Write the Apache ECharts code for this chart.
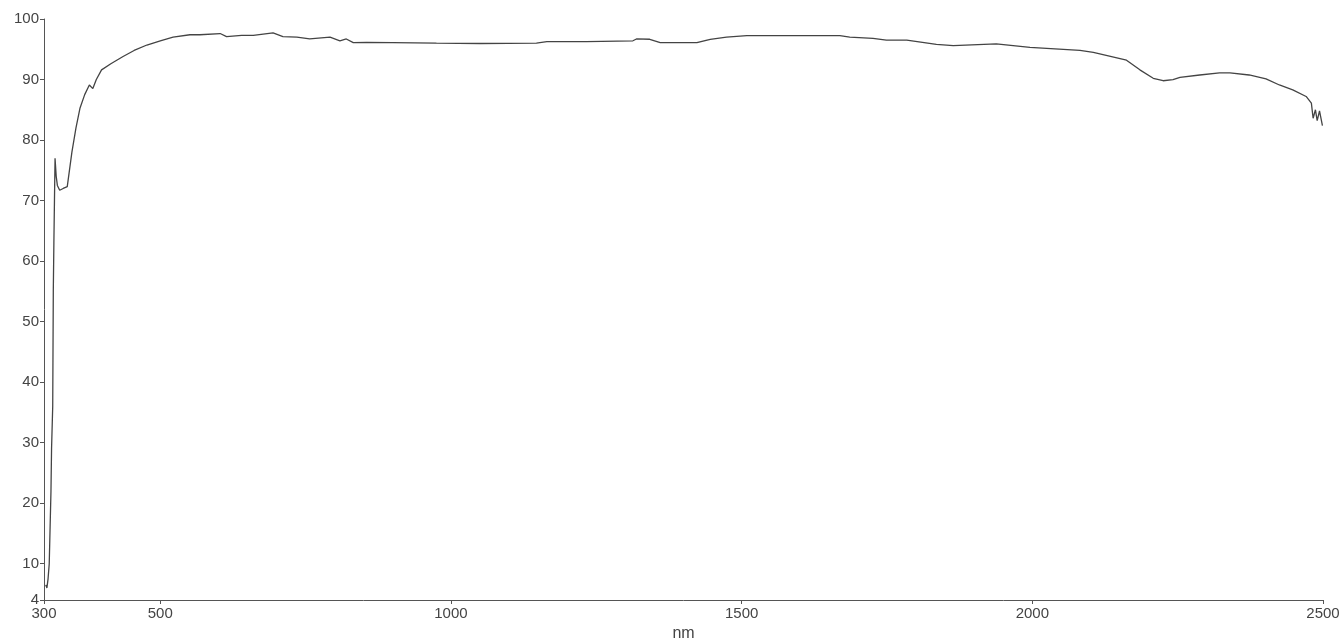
<!DOCTYPE html>
<html>
<head>
<meta charset="utf-8">
<script src="https://cdn.jsdelivr.net/npm/echarts@6/dist/echarts.min.js"></script>
<style>
  html, body { margin: 0; padding: 0; background: #fff; }
  #chart { width: 1342px; height: 641px; }
</style>
</head>
<body>
<div id="chart"></div>
<script>
// wavelength (nm) and reflectance
const wavelength = [
  303, 305, 307, 309, 310, 312, 313, 315, 316, 317, 318, 319, 321, 323, 327, 333, 340, 343,
  348, 355, 362, 370, 378, 384, 390, 399, 415, 436, 455, 477, 500, 522, 551, 568, 603, 614,
  640, 660, 694, 711, 735, 757, 792, 809, 820, 832, 855, 900, 975, 1050, 1147, 1165, 1233,
  1313, 1319, 1342, 1360, 1423, 1446, 1474, 1509, 1669, 1686, 1726, 1749, 1784, 1835, 1864,
  1938, 1996, 2082, 2105, 2162, 2185, 2208, 2225, 2242, 2254, 2288, 2322, 2340, 2373, 2402,
  2425, 2448, 2471, 2480, 2483, 2487, 2490, 2494, 2499
]
const reflectance = [
  6.5, 6.0, 7.5, 10, 14, 22, 29, 36, 55, 63, 70, 77, 74, 72.5, 71.7, 72, 72.3, 72.5,
  78, 82, 85.3, 87.5, 89.1, 88.5, 90, 91.6, 92.6, 93.8, 94.8, 95.7, 96.4, 97.0, 97.4, 97.4, 97.6, 97.1,
  97.3, 97.3, 97.7, 97.1, 97.0, 96.7, 97.0, 96.4, 96.7, 96.1, 96.15, 96.1, 96.0, 95.95, 96.0, 96.25, 96.25,
  96.4, 96.7, 96.65, 96.1, 96.1, 96.65, 97.0, 97.25, 97.25, 97.0, 96.8, 96.5, 96.5, 95.8, 95.6,
  95.9, 95.3, 94.8, 94.5, 93.2, 91.6, 90.2, 89.8, 90.0, 90.35, 90.75, 91.1, 91.1, 90.75, 90.1,
  89.1, 88.3, 87.2, 86.1, 83.6, 85.0, 83.2, 84.8, 82.4
]
const xTicks = [300, 500, 1000, 1500, 2000, 2500]
const yTicks = [4, 10, 20, 30, 40, 50, 60, 70, 80, 90, 100]

const chart = echarts.init(document.getElementById('chart'))

const axisColor = '#555'
const labelStyle = {
  color: '#444',
  fontSize: 15,
  fontFamily: 'Liberation Sans, Arial, sans-serif'
}

const option = {
  animation: false,
  backgroundColor: '#fff',
  grid: {
    left: 44,
    right: 19,
    top: 19,
    bottom: 41,
    containLabel: false,
    outerBoundsMode: 'none'
  },
  xAxis: {
    type: 'value',
    min: 300,
    max: 2500,
    name: 'nm',
    nameLocation: 'middle',
    nameGap: 21,
    nameTextStyle: Object.assign({}, labelStyle, { fontSize: 16 }),
    axisLine: { lineStyle: { color: axisColor, width: 1 } },
    axisTick: { customValues: xTicks, length: 4, lineStyle: { color: axisColor } },
    axisLabel: Object.assign({
      customValues: xTicks,
      margin: 6,
      formatter: v => String(v)
    }, labelStyle),
    splitLine: { show: false }
  },
  yAxis: {
    type: 'value',
    min: 4,
    max: 100,
    axisLine: { show: true, lineStyle: { color: axisColor, width: 1 } },
    axisTick: { show: true, customValues: yTicks, length: 4, lineStyle: { color: axisColor } },
    axisLabel: Object.assign({
      customValues: yTicks,
      margin: 5,
      formatter: v => String(v)
    }, labelStyle),
    splitLine: { show: false }
  },
  series: [
    {
      type: 'line',
      data: wavelength.map((w, i) => [w, reflectance[i]]),
      showSymbol: false,
      smooth: false,
      lineStyle: { color: '#444', width: 1.3 }
    }
  ]
}

chart.setOption(option)
</script>
</body>
</html>
